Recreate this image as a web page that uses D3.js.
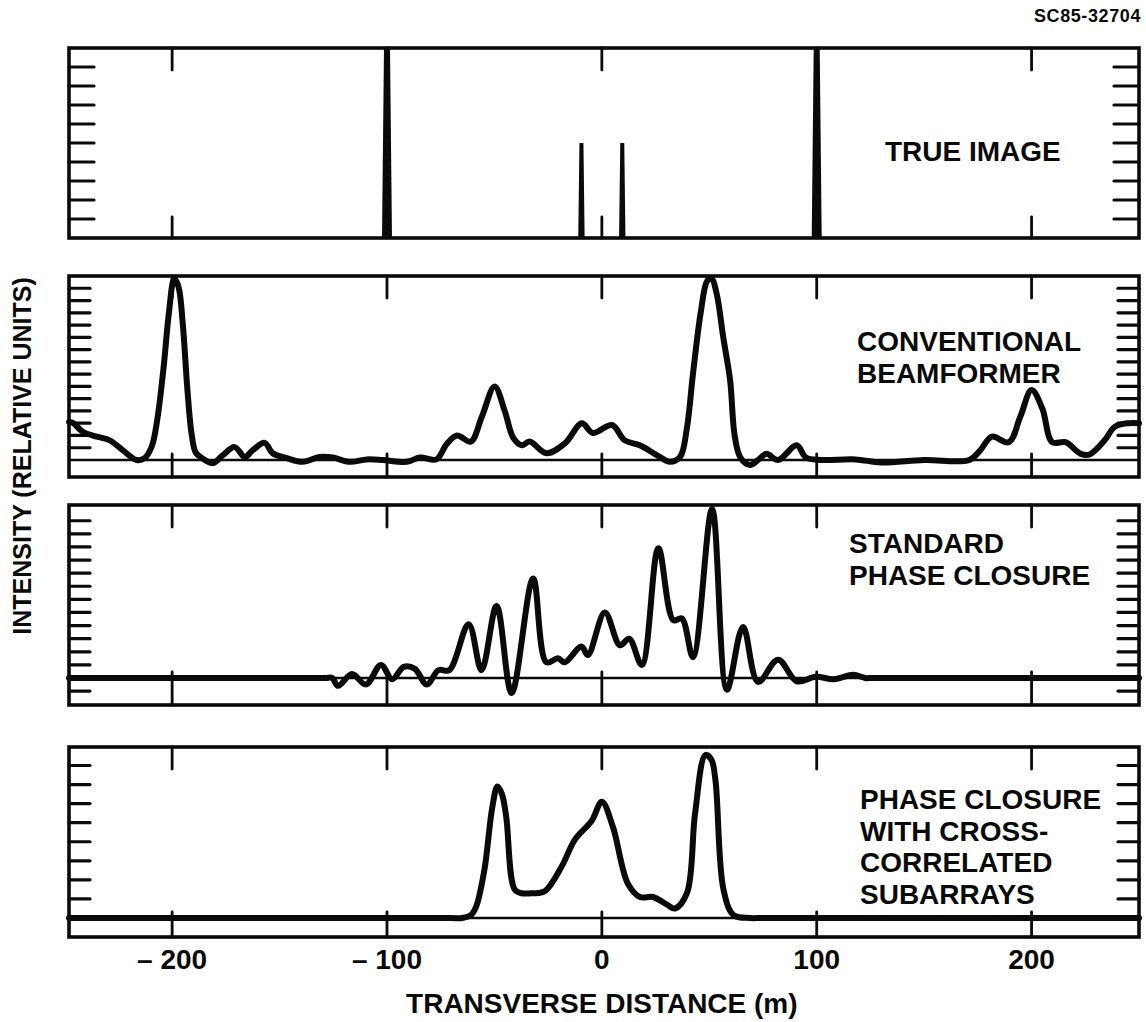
<!DOCTYPE html>
<html>
<head>
<meta charset="utf-8">
<script src="https://cdn.jsdelivr.net/npm/d3@7"></script>
<style>
  body { margin: 0; background: #fff; }
  svg { display: block; }
</style>
</head>
<body>
<script>
// ---- data ----
const xTicks = [-200, -100, 0, 100, 200];
const xTickLabels = ["\u2013 200", "\u2013 100", "0", "100", "200"];

// true image: point targets (relative units)
const trueX = [-100, -9.5, 9.5, 100];
const trueY = [10, 5, 5, 10];

// conventional beamformer
const beamX = [-248, -246, -241.6, -235, -229, -223, -216.5, -212.8, -209.5, -207, -204, -201.5, -199, -197, -195, -193, -191, -189, -186,
  -181, -176.4, -170.9, -166.2, -162.5, -156.9, -153.2, -146.6, -139.2, -131.3, -125.2, -117.3, -109.4, -102, -90.8, -84.7, -77,
  -72.2, -67.4, -61, -55.9, -49.9, -45.2, -41.2, -37.3, -33.6, -25.8, -17.2, -9.3, -4.2, 4.7, 10.7, 17.7, 25.6, 31.7, 36.4,
  39.5, 42.4, 46, 49, 51, 53.5, 56.5, 59.7, 61.8, 64.5, 69, 72.7, 76.6, 82, 90.7, 95, 102, 118, 130, 150, 171,
  176, 181.5, 189.4, 194.7, 200, 205, 209.6, 215.8, 222.9, 227, 234, 238.7, 245, 250];
const beamY = [3.1, 3.0, 2.3, 1.9, 1.6, 0.8, 0.0, 0.15, 1.1, 3.2, 7.5, 12, 14.8, 14.1, 11, 6, 2.2, 0.6, 0.15,
  -0.25, 0.4, 1.05, 0.25, 0.8, 1.4, 0.55, 0.15, -0.15, 0.25, 0.2, -0.15, 0.05, 0, -0.15, 0.2, 0.05,
  1.3, 2.0, 1.5, 3.5, 6.0, 4.0, 1.8, 1.2, 1.5, 0.55, 1.35, 3.0, 2.2, 2.85, 1.6, 1.2, 0.4, -0.15, 0.25,
  2.5, 7.0, 12, 14.6, 14.8, 13.5, 10, 6.5, 2.0, 0.2, -0.4, 0, 0.5, 0, 1.2, 0.2, 0, 0.05, -0.2, 0, 0,
  0.77, 1.9, 1.45, 3.5, 5.7, 4.2, 1.45, 1.45, 0.5, 0.45, 1.6, 2.7, 3.0, 3.0];

// standard phase closure
const stdX = [-248, -129, -125.5, -122.8, -116.3, -109.8, -102.8, -97.6, -92.2, -87, -81.5, -76, -71, -62, -56, -49, -42, -32,
  -25.8, -20.5, -17.3, -9.5, -6.5, 1.4, 8.4, 12.7, 18.6, 26.3, 33.3, 37.2, 42.4, 51.3, 58.2, 65.7, 72.7, 82, 90.7,
  99.6, 108, 117, 122.5, 126, 250];
const stdY = [0, 0, 0, -0.6, 0.3, -0.5, 1.0, -0.1, 0.85, 0.7, -0.5, 0.6, 0.6, 4.1, 0.6, 5.5, -1.15, 7.6,
  1.2, 1.5, 1.2, 2.4, 1.75, 5.0, 2.5, 3.0, 1.0, 9.9, 4.4, 4.55, 1.6, 12.9, -0.9, 3.9, -0.3, 1.4, -0.25,
  0.1, -0.1, 0.25, 0, 0, 0];

// phase closure with cross-correlated subarrays
const crossX = [-248, -70, -65, -61, -58.5, -54.7, -51, -48.6, -46.5, -44.5, -40.6, -37.3, -32.2, -26.6, -18.7, -12.6, -4.7,
  0, 5.1, 12.1, 17.7, 23.8, 30.3, 34.1, 39.6, 43.4, 48.2, 51, 52.9, 56.6, 61.3, 69, 75, 250];
const crossY = [0, 0, 0, 0.15, 0.6, 2.5, 5.8, 6.9, 6.5, 5.3, 1.5, 1.3, 1.3, 1.4, 2.7, 4.1, 5.1,
  6.1, 4.8, 1.8, 1.1, 1.1, 0.7, 0.5, 1.3, 5.5, 8.55, 8.3, 7.2, 1.5, 0.15, 0, 0, 0];

// ---- layout ----
const W = 1146, H = 1022;
const ink = "#0a0a0a";
const x = d3.scaleLinear([-248, 250], [69, 1139]);
const [x0, x1] = x.range();

const panels = [
  { top: 48, base: 238, bottom: 238, max: 10, ticks: d3.range(1, 10), tickLen: 25, spikes: true,
    label: ["TRUE IMAGE"], labelX: 885, labelY: 161 },
  { top: 276, base: 460, bottom: 477, max: 15, ticks: d3.range(1, 15), tickLen: 21,
    xs: beamX, ys: beamY, label: ["CONVENTIONAL", "BEAMFORMER"], labelX: 857, labelY: 351 },
  { top: 505, base: 678, bottom: 705, max: 13.2, ticks: [-1].concat(d3.range(1, 13)), tickLen: 21,
    xs: stdX, ys: stdY, label: ["STANDARD", "PHASE CLOSURE"], labelX: 849, labelY: 553 },
  { top: 747, base: 918, bottom: 937, max: 8.97, ticks: d3.range(1, 9), tickLen: 21,
    xs: crossX, ys: crossY, label: ["PHASE CLOSURE", "WITH CROSS-", "CORRELATED", "SUBARRAYS"], labelX: 860, labelY: 809 }
];

const svg = d3.select("body").append("svg")
  .attr("width", W)
  .attr("height", H)
  .attr("font-family", "'Liberation Sans', Arial, Helvetica, sans-serif")
  .attr("font-weight", "bold")
  .attr("fill", ink);

panels.forEach((p) => {
  const y = d3.scaleLinear([0, p.max], [p.base, p.top]);
  const g = svg.append("g");

  // zero line
  if (p.base !== p.bottom) {
    g.append("line")
      .attr("x1", x0).attr("x2", x1)
      .attr("y1", p.base).attr("y2", p.base)
      .attr("stroke", ink).attr("stroke-width", 2.6);
  }

  // vertical minor ticks, both sides
  [[x0, 1], [x1, -1]].forEach(([sx, dir]) => {
    g.selectAll(null)
      .data(p.ticks)
      .join("line")
      .attr("x1", sx).attr("x2", sx + dir * p.tickLen)
      .attr("y1", (d) => y(d)).attr("y2", (d) => y(d))
      .attr("stroke", ink).attr("stroke-width", 3.2)
      .attr("stroke-linecap", "round");
  });

  // x ticks from top and bottom edges
  g.selectAll(null)
    .data(xTicks)
    .join("line")
    .attr("x1", (d) => x(d)).attr("x2", (d) => x(d))
    .attr("y1", p.top).attr("y2", p.top + 22)
    .attr("stroke", ink).attr("stroke-width", 2.8)
    .attr("stroke-linecap", "round");
  g.selectAll(null)
    .data(xTicks)
    .join("line")
    .attr("x1", (d) => x(d)).attr("x2", (d) => x(d))
    .attr("y1", p.bottom).attr("y2", p.base === p.bottom ? p.bottom - 21 : p.base - 6)
    .attr("stroke", ink).attr("stroke-width", 2.8)
    .attr("stroke-linecap", "round");

  // the data
  if (p.spikes) {
    const spike = d3.line();
    g.selectAll(null)
      .data(d3.zip(trueX, trueY))
      .join("path")
      .attr("d", ([dx, dy]) => {
        const cx = x(dx), big = dy > 7;
        const hb = big ? 5 : 3.2, ht = big ? 3 : 2;
        return spike([[cx - hb, y(0)], [cx - ht, y(dy)], [cx + ht, y(dy)], [cx + hb, y(0)]]) + "Z";
      })
      .attr("fill", ink);
  } else {
    const line = d3.line()
      .x((d) => x(d[0]))
      .y((d) => y(d[1]))
      .curve(d3.curveCatmullRom.alpha(0.5));
    g.append("path")
      .attr("d", line(d3.zip(p.xs, p.ys)))
      .attr("fill", "none")
      .attr("stroke", ink)
      .attr("stroke-width", 6)
      .attr("stroke-linejoin", "round")
      .attr("stroke-linecap", "round");
  }

  // frame
  g.append("rect")
    .attr("x", x0).attr("y", p.top)
    .attr("width", x1 - x0).attr("height", p.bottom - p.top)
    .attr("fill", "none")
    .attr("stroke", ink).attr("stroke-width", 3.6);

  // panel label
  g.append("text")
    .attr("font-size", 28)
    .selectAll("tspan")
    .data(p.label)
    .join("tspan")
    .attr("x", p.labelX)
    .attr("y", (d, i) => p.labelY + i * 31.5)
    .text((d) => d);
});

// x tick labels under the last panel
svg.append("g")
  .attr("font-size", 28)
  .attr("text-anchor", "middle")
  .selectAll("text")
  .data(xTicks)
  .join("text")
  .attr("x", (d) => x(d))
  .attr("y", 969)
  .text((d, i) => xTickLabels[i]);

svg.append("text")
  .attr("x", x(0))
  .attr("y", 1013)
  .attr("text-anchor", "middle")
  .attr("font-size", 28)
  .text("TRANSVERSE DISTANCE (m)");

svg.append("text")
  .attr("transform", "translate(31,456) rotate(-90)")
  .attr("text-anchor", "middle")
  .attr("font-size", 25)
  .text("INTENSITY (RELATIVE UNITS)");

svg.append("text")
  .attr("x", 1141)
  .attr("y", 22)
  .attr("text-anchor", "end")
  .attr("font-size", 18)
  .attr("letter-spacing", 0.6)
  .text("SC85-32704");
</script>
</body>
</html>
